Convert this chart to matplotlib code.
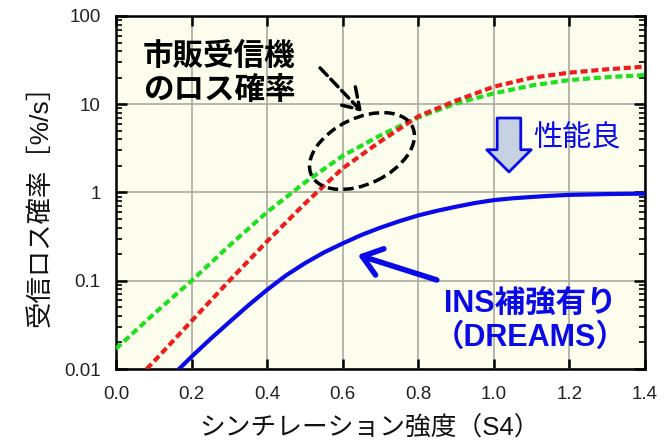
import matplotlib
matplotlib.use("Agg")
import matplotlib.pyplot as plt
import matplotlib.transforms as mtransforms
from matplotlib.patches import Ellipse
from matplotlib.ticker import LogLocator, NullFormatter

# values
s4 = [0.0, 0.1, 0.2, 0.3, 0.4, 0.5, 0.6, 0.7, 0.8, 0.9, 1.0, 1.1, 1.2, 1.3, 1.4]
loss_green = [0.017, 0.042, 0.10, 0.25, 0.60, 1.3, 2.6, 4.45, 7.1, 10.2, 13.3, 16.3, 18.8, 20.3, 21.4]
loss_red = [0.0045, 0.0121, 0.035, 0.10, 0.28, 0.75, 1.88, 3.8, 7.3, 11.0, 15.8, 20.0, 22.8, 24.9, 26.7]
s4_ins = [0.1, 0.15, 0.2, 0.25, 0.3, 0.35, 0.4, 0.45, 0.5, 0.55, 0.6, 0.65, 0.7,
          0.75, 0.8, 0.85, 0.9, 0.95, 1.0, 1.05, 1.1, 1.15, 1.2, 1.25, 1.3, 1.35, 1.4]
loss_ins = [0.0049, 0.0085, 0.0138, 0.0219, 0.034, 0.0525, 0.079, 0.115, 0.158, 0.209,
            0.265, 0.331, 0.40, 0.473, 0.55, 0.621, 0.69, 0.76, 0.82, 0.86, 0.89,
            0.918, 0.94, 0.95, 0.96, 0.966, 0.97]

x_ticks = [0.0, 0.2, 0.4, 0.6, 0.8, 1.0, 1.2, 1.4]
y_ticks = [0.01, 0.1, 1, 10, 100]
y_labels = ["0.01", "0.1", "1", "10", "100"]

JP = ["Liberation Sans", "Noto Sans CJK JP"]
RED = "#ee1c1c"
GREEN = "#1ee01e"
BLUE = "#0a0ae8"

plt.rcParams["font.family"] = JP

fig = plt.figure(figsize=(6.7, 4.48), dpi=100)
ax = fig.add_axes([116 / 670, 79 / 448, 529 / 670, 353 / 448])
ax.set_facecolor("#fdfdee")

ax.plot(s4, loss_green, color=GREEN, lw=3, dashes=(1.7, 0.9), zorder=3)
ax.plot(s4, loss_red, color=RED, lw=3, dashes=(1.7, 0.9), zorder=3)
ax.plot(s4_ins, loss_ins, color=BLUE, lw=3, zorder=3)

ax.set_yscale("log")
ax.set_xlim(0, 1.4)
ax.set_ylim(0.01, 100)
ax.set_xticks(x_ticks, labels=[f"{v:.1f}" for v in x_ticks])
ax.set_yticks(y_ticks, labels=y_labels)
ax.yaxis.set_minor_locator(LogLocator(base=10, subs=range(2, 10)))
ax.yaxis.set_minor_formatter(NullFormatter())
ax.grid(True, which="major", color="#a9a99f", lw=1.2, zorder=1)

ax.tick_params(axis="x", which="major", direction="in", length=7, width=1.8,
               top=True, labelsize=13.5, pad=12, labelcolor="#222222")
ax.tick_params(axis="y", which="major", direction="in", length=8, width=1.8,
               right=True, labelsize=13.5, pad=11, labelcolor="#222222")
ax.tick_params(axis="y", which="minor", direction="in", length=4, width=1.2, right=True)
for sp in ax.spines.values():
    sp.set_linewidth(1.8)

fig.text(40 / 670, 1 - 199 / 448, "受信ロス確率［%/s］", rotation=90,
         ha="center", va="center", fontsize=19, color="#111111")
fig.text(370 / 670, 1 - 428 / 448, "シンチレーション強度（S4）",
         ha="center", va="center", fontsize=18.5, color="#111111")

# annotation for the commercial receivers
ax.text(0.051, 0.926, "市販受信機\nのロス確率", transform=ax.transAxes,
        ha="left", va="top", fontsize=22, fontweight="bold", linespacing=1.15)
ell_trans = fig.dpi_scale_trans + mtransforms.ScaledTranslation(0.651, 2.95, ax.transData)
ax.add_patch(Ellipse((0, 0), 1.12, 0.66, angle=25.7, transform=ell_trans,
                     fill=False, ec="black", lw=2.5, ls=(0, (3, 1.5)), zorder=5))
ax.annotate("", xy=(0.651, 8.2), xytext=(0.54, 25.8),
            arrowprops=dict(arrowstyle="->,head_length=0.7,head_width=0.45",
                            mutation_scale=20, color="black", lw=2.5,
                            ls=(0, (3, 1.5)), shrinkA=0, shrinkB=0))

# better-performance arrow
ax.annotate("", xy=(1.04, 1.71), xytext=(1.04, 6.98),
            arrowprops=dict(arrowstyle="simple,head_length=16,head_width=32,tail_width=17",
                            mutation_scale=1, fc="#c6d2e2", ec=BLUE, lw=2,
                            shrinkA=0, shrinkB=0))
ax.text(0.871, 0.654, "性能良", transform=ax.transAxes, ha="center", va="center",
        fontsize=21, color=BLUE)

# INS aided
ax.annotate("", xy=(0.64, 0.196), xytext=(0.849, 0.102),
            arrowprops=dict(arrowstyle="->,head_length=0.6,head_width=0.45",
                            mutation_scale=22, color=BLUE, lw=4,
                            shrinkA=0, shrinkB=0))
ax.text(0.783, 0.136, "INS補強有り\n（DREAMS）", transform=ax.transAxes,
        ha="center", va="center", fontsize=22, fontweight="bold", color=BLUE,
        linespacing=1.2)

fig.savefig("out.png", dpi=100)
